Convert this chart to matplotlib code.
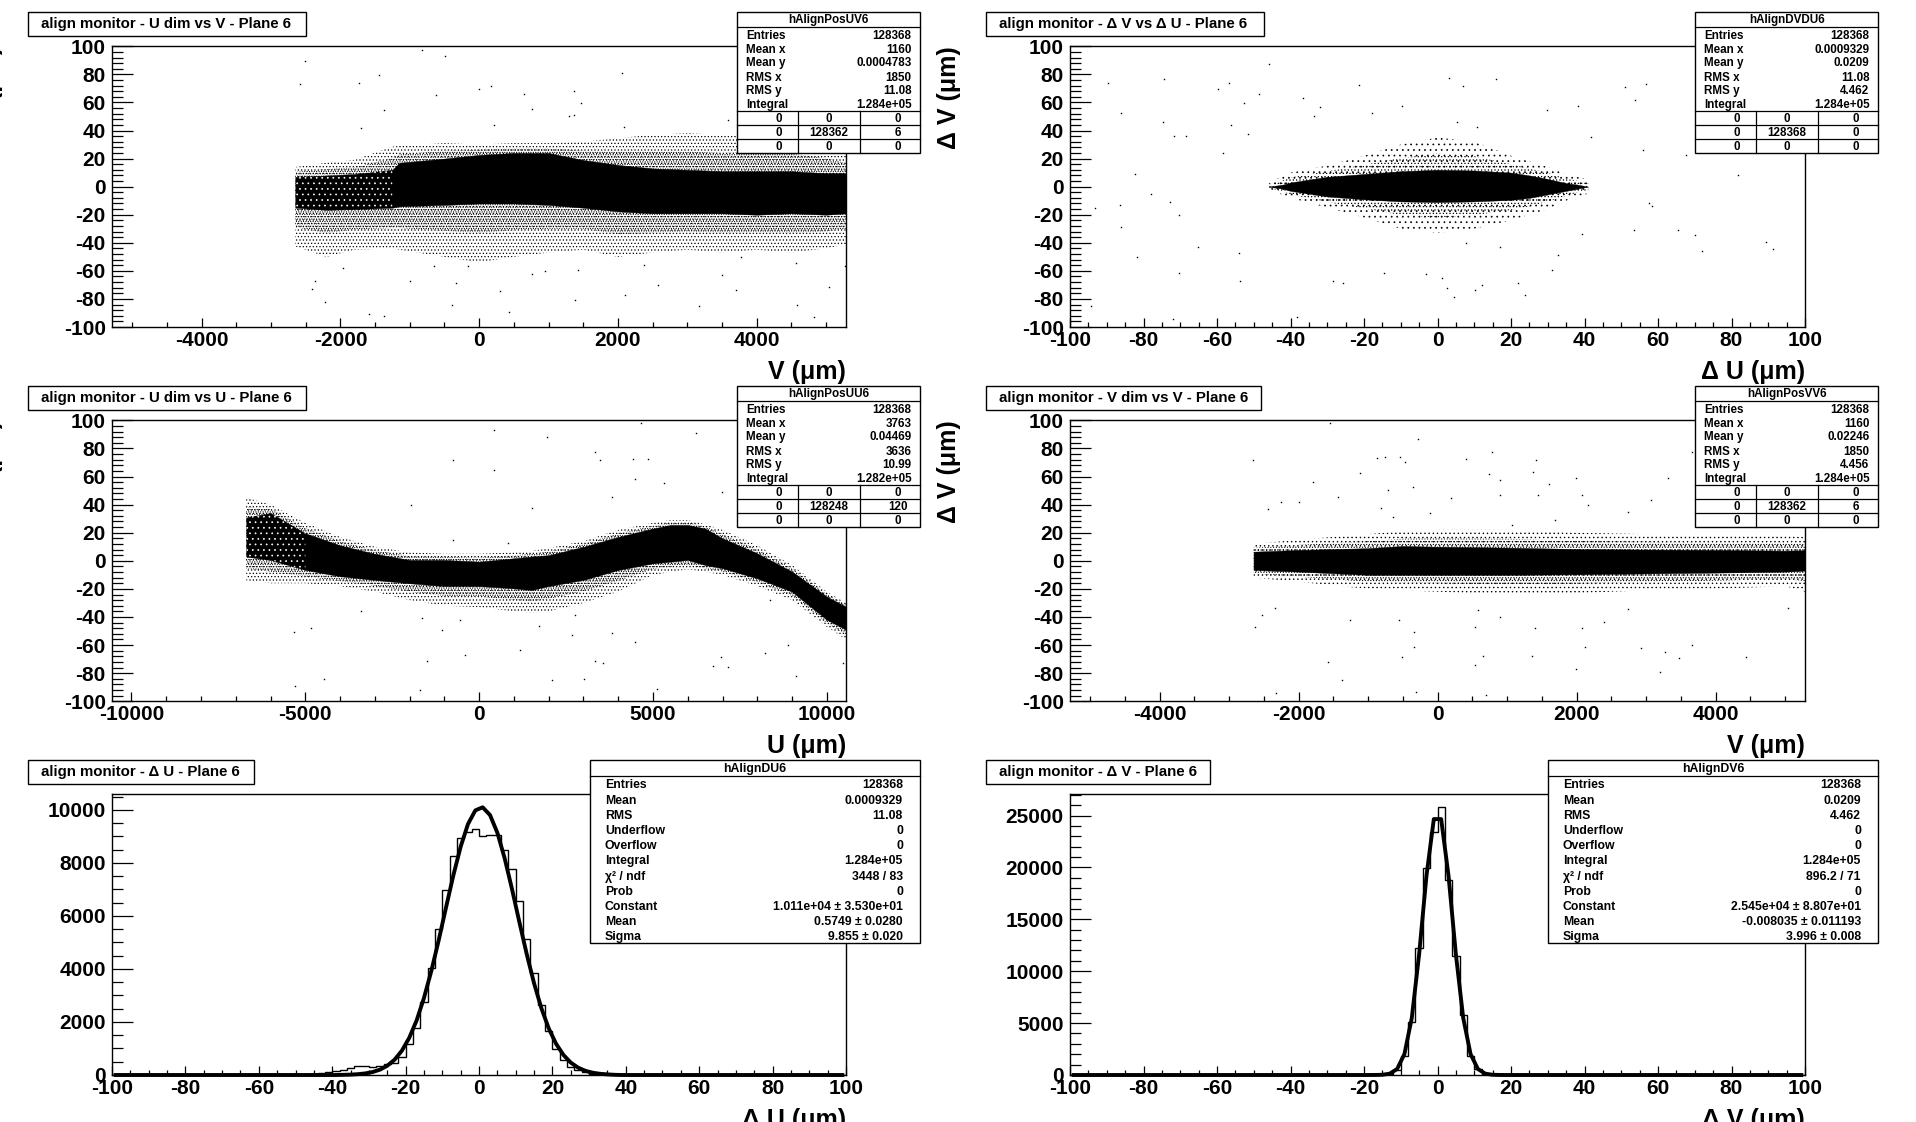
import numpy as np
import matplotlib
matplotlib.use("Agg")
import matplotlib.pyplot as plt
from matplotlib.patches import Rectangle
from matplotlib.ticker import MultipleLocator

plt.rcParams['font.family'] = ['Liberation Sans', 'DejaVu Sans']
plt.rcParams['font.weight'] = 'bold'
plt.rcParams['hatch.linewidth'] = 0.5
plt.rcParams['axes.unicode_minus'] = False

WIDTH, HEIGHT = 1916, 1122

# --- plane 6, U dim vs V
uv_x = [-2650, -2200, -1800, -1250, -1150, -500, 0, 500, 1000, 1500, 2000, 2500, 3000, 3500, 4000, 4500, 5000, 5290]
uv_core_top = [7, 8, 9, 12, 17, 20, 22.6, 24, 24, 19, 15.5, 13, 12, 11, 11, 11, 9.6, 9.6]
uv_core_bot = [-15, -16.5, -16, -15, -14, -13, -12, -12, -13, -15, -17.6, -19, -19, -19, -20, -19, -20, -19]
uv_halo_top = [14, 17, 19, 28.5, 29, 31, 30, 31, 31, 32, 34.5, 37, 38, 37, 38, 36, 31, 24]
uv_halo_bot = [-42.6, -50, -45, -44, -45, -50, -54, -50, -47, -45, -50, -47, -45, -47, -45, -47, -44, -41]
uv_dots_x = [-821, -485, -2507, -2577, -1447, -1730, 168, -9, -618, 644, 2056, 1368, -1377, 768, 1474, 1297, 1368,
             -1703, 220, 2092, 3592, -2365, -2409, -2224, -1589, -1377, -397, 424, 1386, 2109, 2577, 3169, 3707,
             4581, 4828, 5049, 5269, 4563, 3504, 2383, 768, 1430, 944, -335, -997, 300, -1968, -159, -644, 3769]
uv_dots_y = [97.4, 93, 89.6, 73, 79.4, 73.7, 71.8, 69.4, 65.4, 65.8, 80.8, 68.2, 54.7, 55.2, 59.4, 50, 51,
             41.6, 44, 42.8, 47.6, -67.5, -73, -82.2, -90.5, -92, -84.1, -89.3, -80.5, -77, -69.9, -84.8, -73.4,
             -84.1, -93.1, -71.5, -56.8, -54.4, -62.8, -55.6, -62, -59.2, -60.4, -68.7, -67, -74.1, -58, -56.8, -56.8, -50.2]

# --- delta V vs delta U
dd_x = [-46, -42, -40, -30, -20, -10, 0, 10, 20, 25, 30, 35, 38, 41]
dd_core_top = [0, 1.5, 3, 7, 9, 11, 12, 11.5, 10, 8, 5.5, 2.5, 1.5, 0]
dd_core_bot = [0, -1.5, -3, -7, -9, -10.5, -11, -10.5, -9.4, -8, -5.5, -3, -1.5, 0]
dd_halo_top = [2, 8, 10, 15, 22, 30, 35, 32, 22, 18, 14, 9, 7, 5]
dd_halo_bot = [-2, -6, -8, -15, -22, -30, -33, -30, -24, -20, -16, -10, -7, -5]
dd_dots_x = [-89.7, -74.3, -45.8, -56.8, -59.8, -48.7, -52.7, -86, -74.8, -56.3, -71.6, -68.3, -51.5, -58.3, 3, 15.8,
             7, -21.3, -36.7, -32.1, -9.6, -33.7, -17.9, 5.3, 10.8, 29.9, 38.2, 53.8, 51, 56.8, 41.9, 56, 67.6,
             -82.2, -78, -72.8, -86.4, -93.2, -70.3, -86, -65.3, -81.9, -70.3, -53.7, -54, -94.4, -71.9, -38.2,
             -28.4, -25.7, -14.6, -3, 1.2, 2.5, 4.5, 12, 10.3, 21.9, 23.9, 31.1, 32.8, 16.9, 7.8, 39.4, 53.5, 57.6,
             58.5, 65.4, 70, 72.1, 89.5, 91.4, 81.7]
dd_dots_y = [73.7, 76.5, 87.4, 73.7, 69.4, 65.8, 59.4, 52.3, 45.9, 44, 36.2, 36.4, 37.4, 23.8, 77.2, 76.5,
             71.8, 72.5, 63, 57.1, 57.5, 50.4, 52.3, 46.4, 42.8, 54.7, 57.8, 61.8, 70.8, 73, 35.7, 26.2, 22.7,
             9.1, -5.3, -10.6, -13.4, -15.3, -20, -28.4, -43, -50.2, -61.6, -67.5, -47.3, -84.8, -94.3, -92.9,
             -67.5, -68.7, -61.6, -62.3, -65.1, -72.2, -78.6, -69.9, -73.9, -68.7, -77, -59.2, -48.5, -43, -40.2, -33.8, -30.7, -11.7,
             -14.1, -30.7, -34.3, -46.1, -39.5, -44.5, 8]

# --- U dim vs U
uu_x = [-6700, -6000, -5000, -4000, -3000, -2000, -1000, 0, 1000, 1500, 2000, 3000, 4000, 5000, 5500, 6000, 6500, 7000, 8000, 9000, 10000, 10550]
uu_core_top = [31, 34, 19.6, 11, 5, 0.6, 0.6, -0.6, 1.8, 3, 4, 10, 17, 23, 25.5, 25.5, 23, 16, 5.3, -7.7, -25.5, -32.6]
uu_core_bot = [3, 0.6, -6.5, -11, -13.6, -16, -18, -18, -19.6, -20.8, -18, -13.6, -6.5, -1.8, -0.6, 0.6, -3, -5.3, -12.5, -22, -42, -49]
uu_halo_top = [45, 40, 27, 17, 10, 6, 5, 5, 6, 7, 9, 14, 22, 27, 29, 29, 26, 22, 11, -3, -22, -30]
uu_halo_bot = [-14, -16, -16, -18, -22, -28, -32, -33, -36, -37, -36, -30, -22, -10, -8, -6, -8, -10, -18, -28, -47, -56]
uu_dots_x = [440, 1937, 4648, 6232, 3327, 3468, -739, 440, 4437, 4842, 4472, 5317, 6989, -1954, 3820, 1532, -757, 827,
             -3398, -5335, -4842, -1637, -1056, -546, -405, -1514, -4454, -5299, -1690, 1180, 2095, 3028, 3345, 3556,
             4472, 5106, 6725, 7165, 6954, 8222, 8891, 9102, 10475, 2676, 3820, 1708, 2764, 8363]
uu_dots_y = [93.1, 88.4, 97.9, 90.7, 77.7, 71.8, 71.8, 64.6, 72.2, 72.5, 58, 55.2, 49.2, 39.5, 45.7, 37.4, 14.8, 12.5,
             -35.5, -50.7, -48, -40.9, -49.2, -42.1, -67, -71.3, -84.3, -89.1, -91.9, -63.5, -84.8, -84.1, -71.1, -73,
             -57.5, -91, -74.9, -75.8, -68.7, -65.4, -59.9, -82, -73, -52.8, -51.6, -46.4, -38.6, -27.9]

# --- V dim vs V
vv_x = [-2650, -2000, -1000, -500, 0, 1000, 2000, 3000, 4000, 5000, 5290]
vv_core_top = [6.5, 7.7, 9, 10.5, 10, 9.4, 8.4, 8, 7.7, 7.2, 7.5]
vv_core_bot = [-6.5, -7.7, -10, -10, -10, -10, -9.6, -9, -8.4, -7.7, -7]
vv_halo_top = [12, 15, 19, 21, 22, 22, 20, 19, 18, 18, 17]
vv_halo_bot = [-12, -15, -20, -21, -22, -24, -23, -21, -20, -18, -22]
vv_dots_x = [-1545, -281, -2651, -878, -755, -536, -465, -1124, -1800, 781, 413, 1422, 1378, 746, 896, 1993, 1598, -711, -360,
             -2002, -2248, -1431, -2441, -817, 193, 896, 1449, 2081, 2169, 2739, 3073, 3661, 3310, -641, -114, 1071, 1686,
             -2529, -2634, -2335, -1255, -553, -334, -334, -509, -1580, -1370, -2327, -307, 694, 544, 658, 1352, 1993, 2125,
             2081, 1396, 896, 544, 2388, 2932, 3266, 3205, 3468, 3661, 4434, 5040, 2739, 588]
vv_dots_y = [98.3, 86.5, 71.8, 73, 73.7, 73.7, 70.1, 62.3, 55.9, 77.2, 72.2, 71.8, 63, 61.8, 57.5, 58.7, 54.4, 50.4, 52.8,
             42.1, 42.1, 45.7, 36.7, 37.4, 44.5, 46.9, 46.9, 46.9, 39.7, 35, 43.3, 77.7, 58.7, 31.4, 33.8, 25.5, 29,
             -38.6, -47.3, -33.8, -42.1, -42.1, -50.4, -61, -68.7, -72.2, -84.8, -94.3, -93.1, -95.5, -74.1, -67.5, -67.5, -77.2, -61.1,
             -47.6, -48, -40.2, -47.3, -43.8, -61.8, -65.1, -78.9, -69.4, -59.9, -68.7, -33.8, -34.5, -35]

# --- 1D histograms, bins of 2 um from -100 to 100
du_counts = [0] * 27 + [30, 60, 100, 150, 200, 250, 350, 330, 320, 350, 420, 450, 680, 1170, 1774, 2755, 4040, 5510,
                        6980, 8250, 8943, 9170, 9283, 9020, 9057, 9070, 8478, 7760, 6566, 5132, 3850, 2640, 1650,
                        980, 580, 300, 200, 110, 50, 20] + [0] * 33
du_fit = [0] * 31 + [7, 15, 31, 60, 112, 201, 349, 578, 920, 1405, 2059, 2904, 3920, 5072, 6312, 7527, 8613, 9468, 9983,
                     10100, 9808, 9141, 8172, 7010, 5770, 4563, 3462, 2518, 1759, 1179, 758, 468, 277, 157, 86, 45, 23, 7] + [0] * 31
dv_counts = [0] * 43 + [60, 500, 1860, 5077, 12240, 19955, 23425, 25835, 18830, 11440, 5816, 1800, 580, 60] + [0] * 43
dv_fit = [0] * 41 + [3, 22, 128, 575, 2013, 5487, 11631, 19200, 24660, 24660, 19200, 11631, 5487, 2013, 575, 128, 22, 3] + [0] * 41
hist_edges = np.arange(-100, 102, 2)
fit_x = np.arange(-99, 101, 2)

# stat box contents
uv_stats = ["hAlignPosUV6", "1160", "0.0004783", "1850", "11.08", "1.284e+05", "128362", "6"]
dd_stats = ["hAlignDVDU6", "0.0009329", "0.0209", "11.08", "4.462", "1.284e+05", "128368", "0"]
uu_stats = ["hAlignPosUU6", "3763", "0.04469", "3636", "10.99", "1.282e+05", "128248", "120"]
vv_stats = ["hAlignPosVV6", "1160", "0.02246", "1850", "4.456", "1.284e+05", "128362", "6"]
du_stats = ["hAlignDU6", "0.0009329", "11.08", "3448 / 83", "1.011e+04 ± 3.530e+01", "0.5749 ± 0.0280", "9.855 ± 0.020"]
dv_stats = ["hAlignDV6", "0.0209", "4.462", "896.2 / 71", "2.545e+04 ± 8.807e+01", "-0.008035 ± 0.011193", "3.996 ± 0.008"]

fig = plt.figure(figsize=(WIDTH / 100, HEIGHT / 100), dpi=100, facecolor='white')

# overlay in pixel units for the title boxes and stat boxes
over = fig.add_axes([0, 0, 1, 1], zorder=10)
over.set_xlim(0, WIDTH)
over.set_ylim(HEIGHT, 0)
over.axis('off')


def make_axes(left, right, top, bottom, xlim, ylim, xmajor, xminor, ymajor, yminor):
    ax = fig.add_axes([left / WIDTH, 1 - bottom / HEIGHT, (right - left) / WIDTH, (bottom - top) / HEIGHT])
    ax.set_xlim(*xlim)
    ax.set_ylim(*ylim)
    ax.xaxis.set_major_locator(MultipleLocator(xmajor))
    ax.xaxis.set_minor_locator(MultipleLocator(xminor))
    ax.yaxis.set_major_locator(MultipleLocator(ymajor))
    ax.yaxis.set_minor_locator(MultipleLocator(yminor))
    ax.tick_params(axis='x', which='major', direction='in', length=6.5, width=0.9, labelsize=15, pad=2.8, top=False)
    ax.tick_params(axis='x', which='minor', direction='in', length=3.4, width=0.9, top=False)
    ax.tick_params(axis='y', which='major', direction='in', length=15, width=0.9, labelsize=15, pad=4.5, right=False)
    ax.tick_params(axis='y', which='minor', direction='in', length=7.9, width=0.9, right=False)
    for s in ax.spines.values():
        s.set_linewidth(1.0)
    return ax


def draw_cloud(ax, x, core_top, core_bot, halo_top, halo_bot, dots_x, dots_y, hatch, n_speckle=0):
    # sparse outer band, denser band next to the core, then the solid core
    ax.fill_between(x, halo_bot, halo_top, facecolor='none', edgecolor='black', hatch=hatch, linewidth=0)
    mid_top = (np.array(core_top) + np.array(halo_top)) / 2
    mid_bot = (np.array(core_bot) + np.array(halo_bot)) / 2
    ax.fill_between(x, mid_bot, mid_top, facecolor='none', edgecolor='black', hatch=hatch + '..', linewidth=0)
    ax.fill_between(x, core_bot, core_top, facecolor='black', edgecolor='black', linewidth=0.3)
    if n_speckle:
        # this end of the band is not solid in the source
        ax.fill_between(x[:n_speckle], core_bot[:n_speckle], core_top[:n_speckle], facecolor='none',
                        edgecolor='white', hatch='...', linewidth=0)
    ax.plot(dots_x, dots_y, linestyle='none', marker='s', ms=1.0, mew=0, color='black')


def title_box(x0, x1, y0, y1, text):
    over.add_patch(Rectangle((x0, y0), x1 - x0, y1 - y0, facecolor='white', edgecolor='black', lw=1.0))
    over.text(x0 + 13, (y0 + y1) / 2, text, fontsize=10.8, ha='left', va='center')


def labels(right, bottom, top, left_col, xlabel, ylabel):
    over.text(right, bottom + 52, xlabel, fontsize=18, ha='right', va='baseline')
    lab_x = -9 if left_col else 949
    over.text(lab_x, top, ylabel, fontsize=18, rotation=90, ha='center', va='top')


def stats_2d(x0, y0, vals):
    x1 = x0 + 183.5
    y1 = y0 + 141
    over.add_patch(Rectangle((x0, y0), x1 - x0, y1 - y0, facecolor='white', edgecolor='black', lw=1.0, zorder=3))
    for yy in [15, 99, 113, 127]:
        over.plot([x0, x1], [y0 + yy, y0 + yy], color='black', lw=0.9, zorder=4)
    for xx in [61, 123]:
        over.plot([x0 + xx, x0 + xx], [y0 + 99, y1], color='black', lw=0.9, zorder=4)
    over.text((x0 + x1) / 2, y0 + 8, vals[0], fontsize=8.4, ha='center', va='center', zorder=5)
    names = ["Entries", "Mean x", "Mean y", "RMS x", "RMS y", "Integral"]
    rows = ["128368", vals[1], vals[2], vals[3], vals[4], vals[5]]
    offs = [23.5, 37.5, 50.5, 65.5, 79, 92.5]
    for n, v, o in zip(names, rows, offs):
        over.text(x0 + 9, y0 + o, n, fontsize=8.4, ha='left', va='center', zorder=5)
        over.text(x1 - 9, y0 + o, v, fontsize=8.4, ha='right', va='center', zorder=5)
    grid = [["0", "0", "0"], ["0", vals[6], vals[7]], ["0", "0", "0"]]
    for row, o in zip(grid, [106.5, 120.5, 134.5]):
        for txt, cx in zip(row, [42, 92, 161]):
            over.text(x0 + cx, y0 + o, txt, fontsize=8.4, ha='center', va='center', zorder=5)


def stats_1d(x0, x1, vals):
    y0 = 760
    y1 = 943
    over.add_patch(Rectangle((x0, y0), x1 - x0, y1 - y0, facecolor='white', edgecolor='black', lw=1.0, zorder=3))
    over.plot([x0, x1], [776, 776], color='black', lw=0.9, zorder=4)
    over.text((x0 + x1) / 2, 768.5, vals[0], fontsize=8.8, ha='center', va='center', zorder=5)
    names = ["Entries", "Mean", "RMS", "Underflow", "Overflow", "Integral", "χ² / ndf", "Prob", "Constant", "Mean", "Sigma"]
    rows = ["128368", vals[1], vals[2], "0", "0", "1.284e+05", vals[3], "0", vals[4], vals[5], vals[6]]
    offs = [784.5, 800.5, 816, 830.5, 845.5, 861, 876.5, 891.5, 906.5, 921.5, 936.5]
    for n, v, o in zip(names, rows, offs):
        over.text(x0 + 15, o, n, fontsize=8.8, ha='left', va='center', zorder=5)
        over.text(x1 - 17, o, v, fontsize=8.8, ha='right', va='center', zorder=5)


LEFT = (112, 846)
RIGHT = (1070, 1805)
ROW1 = (46.3, 327)
ROW2 = (420.3, 701.3)
ROW3 = (794.3, 1075)
POS_LIM = (-5292, 5288)
DD_LIM = (-100, 100)

# row 1
ax = make_axes(*LEFT, *ROW1, POS_LIM, (-100, 100), 2000, 500, 20, 4)
draw_cloud(ax, uv_x, uv_core_top, uv_core_bot, uv_halo_top, uv_halo_bot, uv_dots_x, uv_dots_y, '.....', n_speckle=4)
title_box(28, 306, 12.3, 35.7, "align monitor - U dim vs V - Plane 6")
labels(LEFT[1], ROW1[1], ROW1[0], True, "V (μm)", "Δ U (μm)")
stats_2d(737, 12.3, uv_stats)

ax = make_axes(*RIGHT, *ROW1, DD_LIM, (-100, 100), 20, 5, 20, 4)
draw_cloud(ax, dd_x, dd_core_top, dd_core_bot, dd_halo_top, dd_halo_bot, dd_dots_x, dd_dots_y, '...')
title_box(986, 1264, 12.3, 35.7, "align monitor - Δ V vs Δ U - Plane 6")
labels(RIGHT[1], ROW1[1], ROW1[0], False, "Δ U (μm)", "Δ V (μm)")
stats_2d(1695, 12.3, dd_stats)

# row 2
ax = make_axes(*LEFT, *ROW2, (-10560, 10550), (-100, 100), 5000, 1000, 20, 4)
draw_cloud(ax, uu_x, uu_core_top, uu_core_bot, uu_halo_top, uu_halo_bot, uu_dots_x, uu_dots_y, '.....', n_speckle=3)
title_box(28, 306, 386, 410, "align monitor - U dim vs U - Plane 6")
labels(LEFT[1], ROW2[1], ROW2[0], True, "U (μm)", "Δ U (μm)")
stats_2d(737, 386.3, uu_stats)

ax = make_axes(*RIGHT, *ROW2, POS_LIM, (-100, 100), 2000, 500, 20, 4)
draw_cloud(ax, vv_x, vv_core_top, vv_core_bot, vv_halo_top, vv_halo_bot, vv_dots_x, vv_dots_y, '....')
title_box(986, 1261, 386, 410, "align monitor - V dim vs V - Plane 6")
labels(RIGHT[1], ROW2[1], ROW2[0], False, "V (μm)", "Δ V (μm)")
stats_2d(1695, 386.3, vv_stats)

# row 3
ax = make_axes(*LEFT, *ROW3, DD_LIM, (0, 10590), 20, 5, 2000, 500)
ax.stairs(du_counts, hist_edges, color='black', lw=1.0)
ax.plot(fit_x, du_fit, color='black', lw=2.8, clip_on=False)
title_box(28, 254, 760.3, 783.7, "align monitor - Δ U - Plane 6")
labels(LEFT[1], ROW3[1], ROW3[0], True, "Δ U (μm)", "")
stats_1d(590, 920, du_stats)

ax = make_axes(*RIGHT, *ROW3, DD_LIM, (0, 27050), 20, 5, 5000, 1000)
ax.stairs(dv_counts, hist_edges, color='black', lw=1.0)
ax.plot(fit_x, dv_fit, color='black', lw=2.8, clip_on=False)
title_box(986, 1210.5, 760.3, 783.7, "align monitor - Δ V - Plane 6")
labels(RIGHT[1], ROW3[1], ROW3[0], False, "Δ V (μm)", "")
stats_1d(1548, 1878, dv_stats)

fig.savefig("out.png", dpi=100)
